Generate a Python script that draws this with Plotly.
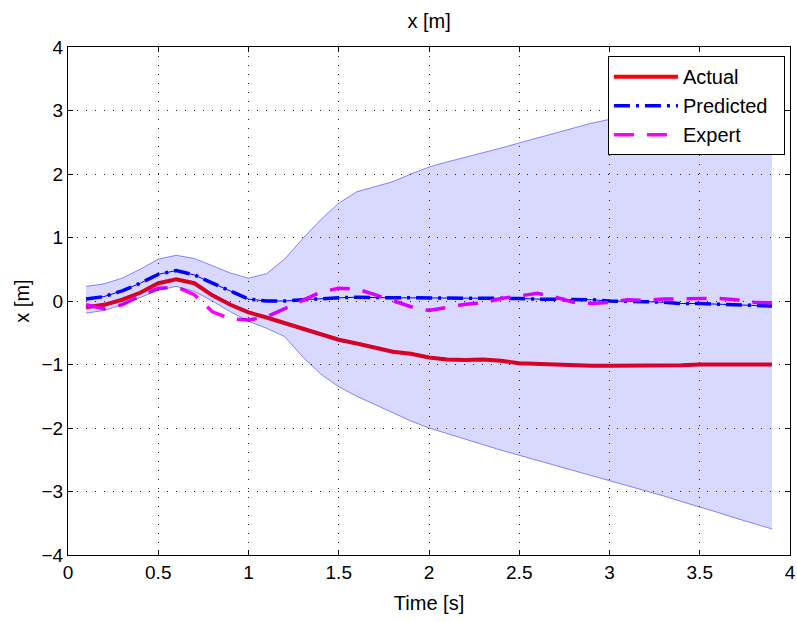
import plotly.graph_objects as go

time = [0.1, 0.2, 0.3, 0.4, 0.5, 0.6, 0.7, 0.8, 0.9, 1.0,
        1.1, 1.2, 1.3, 1.4, 1.5, 1.6, 1.7, 1.8, 1.9, 2.0,
        2.1, 2.2, 2.3, 2.4, 2.5, 2.6, 2.7, 2.8, 2.9, 3.0,
        3.1, 3.2, 3.3, 3.4, 3.5, 3.6, 3.7, 3.8, 3.9]

actual = [-0.10, -0.06, 0.02, 0.13, 0.28, 0.34, 0.28, 0.09, -0.06, -0.18,
          -0.26, -0.35, -0.44, -0.53, -0.61, -0.67, -0.73, -0.80, -0.83, -0.89,
          -0.92, -0.93, -0.92, -0.94, -0.98, -0.99, -1.00, -1.02, -1.02, -1.02,
          -1.02, -1.02, -1.02, -1.01, -1.00, -1.00, -1.00, -1.00, -1.00]

predicted = [0.03, 0.07, 0.16, 0.28, 0.42, 0.48, 0.41, 0.28, 0.15, 0.03,
             0.00, 0.00, 0.02, 0.04, 0.05, 0.06, 0.05, 0.05, 0.05, 0.05,
             0.05, 0.05, 0.05, 0.04, 0.04, 0.03, 0.03, 0.03, 0.02, 0.00,
             0.00, -0.01, -0.02, -0.04, -0.04, -0.05, -0.06, -0.08, -0.08]

expert = [-0.06, -0.12, -0.06, 0.08, 0.20, 0.22, 0.10, -0.17, -0.28, -0.30,
          -0.25, -0.12, 0.01, 0.14, 0.20, 0.19, 0.10, 0.00, -0.09, -0.15,
          -0.10, -0.05, -0.03, 0.04, 0.08, 0.12, 0.06, -0.02, -0.04, -0.02,
          0.02, 0.01, 0.03, 0.03, 0.03, 0.04, 0.02, -0.02, -0.03]

band_upper = [0.23, 0.27, 0.36, 0.50, 0.66, 0.72, 0.67, 0.56, 0.44, 0.36,
              0.43, 0.66, 0.98, 1.28, 1.54, 1.72, 1.80, 1.88, 2.00, 2.11,
              2.19, 2.26, 2.33, 2.41, 2.49, 2.57, 2.65, 2.73, 2.80, 2.86,
              2.93, 3.00, 3.06, 3.13, 3.19, 3.26, 3.32, 3.38, 3.44]

band_lower = [-0.19, -0.15, -0.06, 0.05, 0.17, 0.23, 0.15, 0.00, -0.17, -0.32,
              -0.43, -0.56, -0.88, -1.15, -1.35, -1.50, -1.63, -1.77, -1.89, -2.00,
              -2.09, -2.18, -2.27, -2.35, -2.43, -2.51, -2.59, -2.67, -2.75, -2.82,
              -2.90, -2.99, -3.07, -3.16, -3.24, -3.33, -3.42, -3.51, -3.59]

series_names = ["Actual", "Predicted", "Expert"]

FONT = "Liberation Sans, Arial, Helvetica, sans-serif"
PAD = "\u00a0\u00a0"

fig = go.Figure()

fig.add_trace(go.Scatter(x=time, y=actual, mode="lines", name=series_names[0] + PAD,
                         line=dict(color="rgb(255,0,0)", width=4)))
fig.add_trace(go.Scatter(x=time, y=predicted, mode="lines", showlegend=False,
                         hoverinfo="skip",
                         line=dict(color="rgb(0,0,255)", width=1)))
fig.add_trace(go.Scatter(x=time, y=predicted, mode="lines", name=series_names[1] + PAD,
                         line=dict(color="rgb(0,0,255)", width=3.5,
                                   dash="16px,6px,3px,6px")))
fig.add_trace(go.Scatter(x=time, y=expert, mode="lines", name=series_names[2] + PAD,
                         line=dict(color="rgb(255,0,255)", width=3.5,
                                   dash="20px,13px")))
# uncertainty band drawn on top (semi-transparent), like the original
fig.add_trace(go.Scatter(x=time, y=band_lower, mode="lines", showlegend=False,
                         hoverinfo="skip",
                         line=dict(color="rgba(0,0,255,0.45)", width=1)))
fig.add_trace(go.Scatter(x=time, y=band_upper, mode="lines", showlegend=False,
                         hoverinfo="skip", fill="tonexty",
                         fillcolor="rgba(0,0,255,0.15)",
                         line=dict(color="rgba(0,0,255,0.45)", width=1)))

axis_common = dict(
    showline=True, linecolor="black", linewidth=1, mirror="ticks",
    ticks="inside", ticklen=5, tickcolor="black",
    showgrid=True, gridcolor="#222222", gridwidth=1, griddash="1px,8px",
    zeroline=False, ticklabeloverflow="allow", automargin=False,
    tickfont=dict(family=FONT, size=19, color="black"),
)

fig.update_xaxes(range=[0, 4], dtick=0.5, tick0=0,
                 title=dict(text="Time [s]", font=dict(family=FONT, size=20, color="black"),
                            standoff=14),
                 **axis_common)
fig.update_yaxes(range=[-4, 4], dtick=1, tick0=0,
                 title=dict(text="x [m]", font=dict(family=FONT, size=20, color="black"),
                            standoff=6),
                 **axis_common)

fig.update_layout(
    width=797, height=622,
    margin=dict(l=68, r=7, t=47, b=67, autoexpand=False),
    paper_bgcolor="white", plot_bgcolor="white",
    title=dict(text="x [m]", x=0.5385, xanchor="center", y=1 - 21 / 622,
               yanchor="middle", font=dict(family=FONT, size=20, color="black")),
    legend=dict(x=0.993, xanchor="right", y=0.982, yanchor="top",
                traceorder="normal",
                bgcolor="white", bordercolor="black", borderwidth=1,
                font=dict(family=FONT, size=20, color="black"),
                itemwidth=64, tracegroupgap=0),
    showlegend=True,
)

fig.write_html("out.html")
